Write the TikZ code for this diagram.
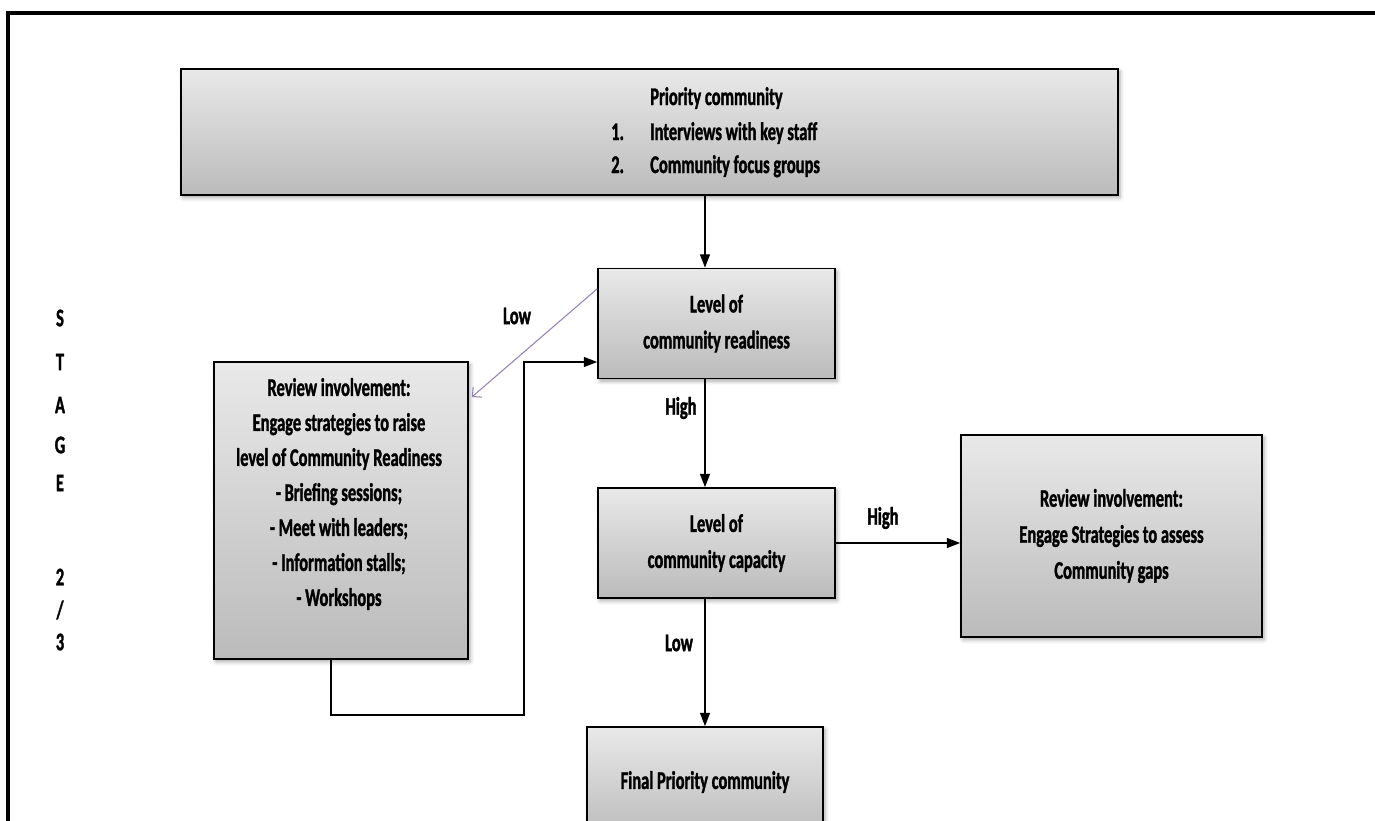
\documentclass[tikz,border=0pt]{standalone}
\usepackage{fontspec}
\setmainfont{Carlito}[FakeStretch=0.65, BoldFeatures={FakeBold=1.3}]
\usetikzlibrary{arrows.meta,calc,shadows.blur}
\definecolor{boxtop}{HTML}{E9E9E9}
\definecolor{boxbot}{HTML}{BBBBBB}
\definecolor{lowline}{RGB}{150,130,185}
\tikzset{
  box/.style 2 args={draw=black, line width=1.3pt, top color=boxtop, bottom color=boxbot,
    minimum width=#1*0.75pt, minimum height=#2*0.75pt, inner sep=0pt, align=center,
    font=\fontsize{19}{27}\selectfont\bfseries,
    blur shadow={shadow xshift=1.5pt, shadow yshift=-2pt, shadow blur radius=3pt, shadow opacity=35}},
  txt/.style={font=\fontsize{19}{27}\selectfont\bfseries, inner sep=0pt},
  conn/.style={line width=1pt, -{Triangle[length=10pt,width=7.5pt]}},
  lowconn/.style={draw=lowline, line width=0.8pt, -{Straight Barb[length=5pt,width=10pt]}},
}
\begin{document}
\begin{tikzpicture}[x=0.75pt,y=-0.75pt]
  \useasboundingbox (0,0) rectangle (1375,821);
  \clip (0,0) rectangle (1375,821);

  % frame
  \draw[line width=3pt] (8,821) -- (8,13) -- (1375,13);

  % boxes
  \node[box={937}{126}] (top) at (649.5,132) {};
  \node[txt, anchor=base west] (toph) at (650,105) {Priority community};
  \node[txt, anchor=base west] (topn1) at (611,140) {1.};
  \node[txt, anchor=base west] (topi1) at (650,140) {Interviews with key staff};
  \node[txt, anchor=base west] (topn2) at (611,173) {2.};
  \node[txt, anchor=base west] (topi2) at (650,173) {Community focus groups};

  \node[box={237}{110}] (rdy) at (716.5,323.5) {Level of\\community readiness};
  \node[box={237}{110}] (cap) at (716.5,543) {Level of\\community capacity};
  \node[box={301}{202}] (assess) at (1111.5,536)
    {Review involvement:\\Engage Strategies to assess\\Community gaps};
  \node[box={236}{110}] (fin) at (705,782) {Final Priority community};

  \node[box={254}{297}] (review) at (341,510.5) {};
  \node[txt, align=center, font=\fontsize{19}{26.25}\selectfont\bfseries] (reviewtxt) at (339,494)
    {Review involvement:\\Engage strategies to raise\\level of Community Readiness\\- Briefing sessions;\\- Meet with leaders;\\- Information stalls;\\- Workshops};

  % stage caption
  \foreach \yy/\ch [count=\i] in {318/S,362/T,405/A,445/G,483/E,577/2,610/{/},642/3}
    \node[txt] (stage\i) at (60,\yy) {\ch};

  % routing points
  \coordinate (spine) at (705,0);
  \coordinate (loopL) at (331,0);
  \coordinate (loopB) at (0,715);
  \coordinate (loopR) at (524,0);
  \coordinate (loopT) at (0,362);

  % connectors
  \draw[conn] (top.south -| spine) -- (rdy.north -| spine);
  \draw[conn] (rdy.south -| spine) -- (cap.north -| spine);
  \draw[conn] (cap.south -| spine) -- (fin.north -| spine);
  \draw[conn] (cap.east) -- (assess.west |- cap.east);
  \draw[conn] (review.south -| loopL) |- (loopB -| loopR) |- (rdy.west |- loopT);
  \draw[lowconn] ($(rdy.north west)!0.19!(rdy.south west)$)
    -- ($(review.north east)!0.12!(review.south east)+(3,0)$);

  % branch labels
  \node[txt] (lblLow1) at (517,316) {Low};
  \node[txt] (lblHigh1) at (681,408) {High};
  \node[txt] (lblHigh2) at (883,518) {High};
  \node[txt] (lblLow2) at (679,643) {Low};
\end{tikzpicture}
\end{document}
